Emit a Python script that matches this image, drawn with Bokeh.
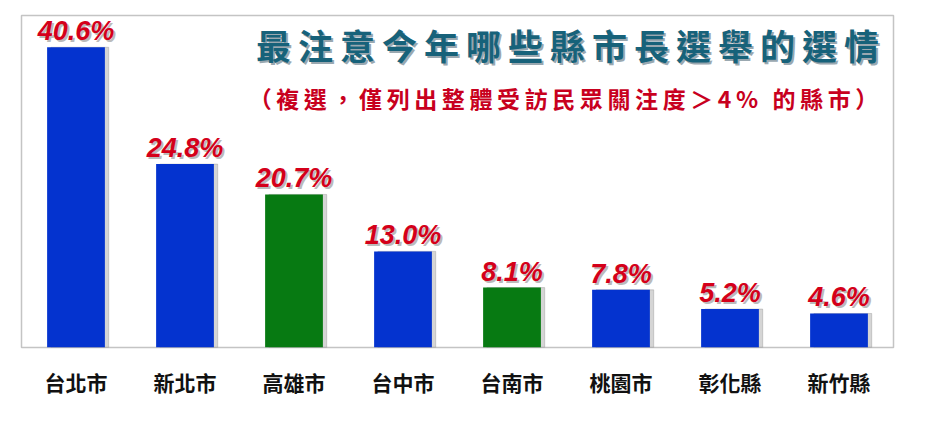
from bokeh.plotting import figure
from bokeh.models import ColumnDataSource, FactorRange, Range1d, Label
from bokeh.transform import dodge
from bokeh.core.properties import value
from bokeh.embed import file_html
from bokeh.resources import INLINE

categories = ["台北市", "新北市", "高雄市", "台中市", "台南市", "桃園市", "彰化縣", "新竹縣"]
values = [40.6, 24.8, 20.7, 13.0, 8.1, 7.8, 5.2, 4.6]
labels = ["40.6%", "24.8%", "20.7%", "13.0%", "8.1%", "7.8%", "5.2%", "4.6%"]
bar_colors = ["#0433cf", "#0433cf", "#077a12", "#0433cf", "#077a12", "#0433cf", "#0433cf", "#0433cf"]
title_text = "最注意今年哪些縣市長選舉的選情"
subtitle_text = "（複選，僅列出整體受訪民眾關注度＞4% 的縣市）"

src = ColumnDataSource(dict(cat=categories, val=values, lab=labels, col=bar_colors))

p = figure(width=930, height=410, x_range=FactorRange(*categories, range_padding=0),
           y_range=Range1d(0, 44.9), output_backend="svg", toolbar_location=None,
           min_border_left=21, min_border_right=37, min_border_top=15, min_border_bottom=63)
p.background_fill_color = "white"
p.border_fill_color = "white"
p.outline_line_color = "#c4c4c4"
p.outline_line_width = 1.5
p.grid.visible = False
p.yaxis.visible = False

# shadows
p.vbar(x=dodge("cat", 0.035, range=p.x_range), top="val", width=0.53, source=src,
       color="#888888", alpha=0.35)
p.vbar(x="cat", top="val", width=0.53, source=src, fill_color="col", line_color=None)

# value labels with shadow
cjk = "Noto Sans CJK TC"
lab_font = "Liberation Sans"
p.text(x="cat", y="val", text="lab", source=src, x_offset=2, y_offset=1,
       text_align="center", text_baseline="bottom", text_font=value(lab_font),
       text_font_size="27px", text_font_style="bold italic", text_color="#777777", text_alpha=0.5)
p.text(x="cat", y="val", text="lab", source=src, x_offset=0, y_offset=-1,
       text_align="center", text_baseline="bottom", text_font=value(lab_font),
       text_font_size="27px", text_font_style="bold italic", text_color="#d4001a")

# title with shadow
spaced_title = "\u2009".join(title_text)
spaced_sub = "\u2009".join(subtitle_text)
p.add_layout(Label(x=548, y=301, x_units="screen", y_units="screen", text=spaced_title,
                   text_align="center", text_baseline="middle", text_font=cjk,
                   text_font_size="35px", text_font_style="bold", text_color="#9aa8b0"))
p.add_layout(Label(x=546, y=303, x_units="screen", y_units="screen", text=spaced_title,
                   text_align="center", text_baseline="middle", text_font=cjk,
                   text_font_size="35px", text_font_style="bold", text_color="#17627a"))
p.add_layout(Label(x=542, y=250, x_units="screen", y_units="screen", text=spaced_sub,
                   text_align="center", text_baseline="middle", text_font=cjk,
                   text_font_size="23px", text_font_style="bold", text_color="#c8001e"))

ax = p.xaxis[0]
ax.axis_line_color = None
ax.major_tick_line_color = None
ax.minor_tick_line_color = None
ax.major_label_overrides = {c: "\u2009".join(c) for c in categories}
ax.major_label_text_font = cjk
ax.major_label_text_font_size = "21px"
ax.major_label_text_font_style = "bold"
ax.major_label_text_color = "#111111"
ax.major_label_standoff = 13

open("out.html", "w").write(file_html(p, INLINE))
